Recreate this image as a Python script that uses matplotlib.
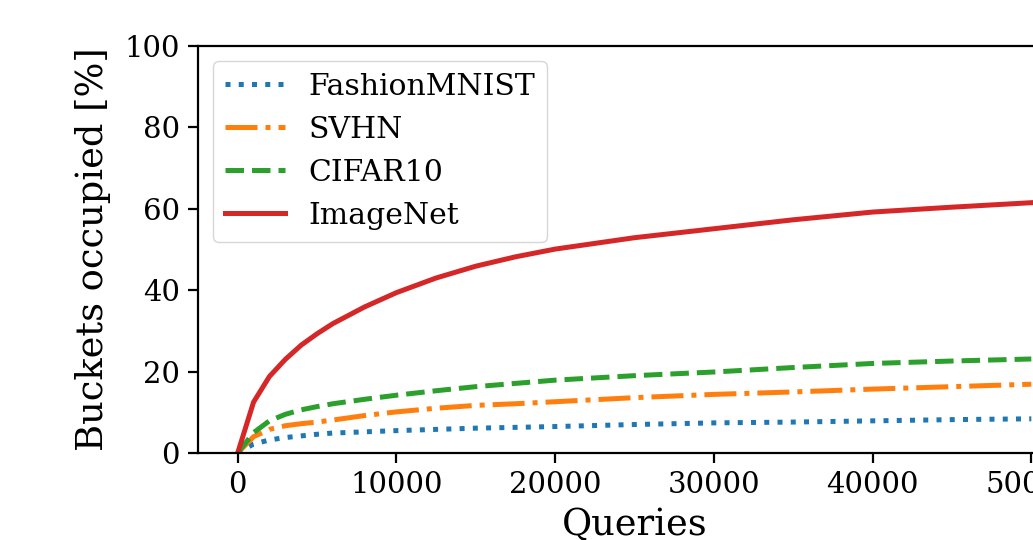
import numpy as np
import matplotlib.pyplot as plt

plt.rcParams['font.family'] = 'DejaVu Serif'

# queries and bucket occupancy
queries = [0, 1000, 2000, 3000, 4000, 5000, 6000, 8000, 10000, 12500, 15000,
           17500, 20000, 25000, 30000, 35000, 40000, 45000, 50000]
fashion = [0, 2.2, 3.2, 3.8, 4.2, 4.6, 4.9, 5.2, 5.5, 5.8, 6.1, 6.3, 6.5,
           7.0, 7.4, 7.6, 7.9, 8.2, 8.4]
svhn = [0, 4.0, 5.8, 6.7, 7.2, 7.6, 8.1, 9.2, 10.1, 11.0, 11.7, 12.1, 12.6,
        13.6, 14.4, 15.0, 15.7, 16.3, 16.9]
cifar = [0, 5.0, 7.9, 9.5, 10.6, 11.4, 12.1, 13.2, 14.2, 15.3, 16.3, 17.1,
         17.9, 19.0, 19.9, 21.0, 22.0, 22.6, 23.1]
imagenet = [0, 12.5, 18.8, 23.0, 26.5, 29.3, 31.8, 35.9, 39.4, 43.0, 45.9,
            48.2, 50.1, 52.9, 55.1, 57.3, 59.2, 60.4, 61.5]

fig = plt.figure(figsize=(10.33, 5.4), dpi=100)
# axes run past the right edge, like the cropped original
ax = fig.add_axes([198/1033, 1 - 453/540, 873/1033, 407/540])

lw = 3.6
ax.plot(queries, fashion, ':', color='tab:blue', lw=lw, label='FashionMNIST')
ax.plot(queries, svhn, '-.', color='tab:orange', lw=lw, label='SVHN')
ax.plot(queries, cifar, '--', color='tab:green', lw=lw, label='CIFAR10')
ax.plot(queries, imagenet, '-', color='tab:red', lw=lw, label='ImageNet')

ax.set_ylim(0, 100)
ax.set_xlabel('Queries', fontsize=26.5, labelpad=6)
ax.set_ylabel('Buckets occupied [%]', fontsize=26.5, labelpad=10)
ax.tick_params(labelsize=21, length=7, width=1.6, pad=6)
for s in ax.spines.values():
    s.set_linewidth(1.6)
ax.legend(loc='upper left', fontsize=21.5)

fig.savefig('out.png', dpi=100)
